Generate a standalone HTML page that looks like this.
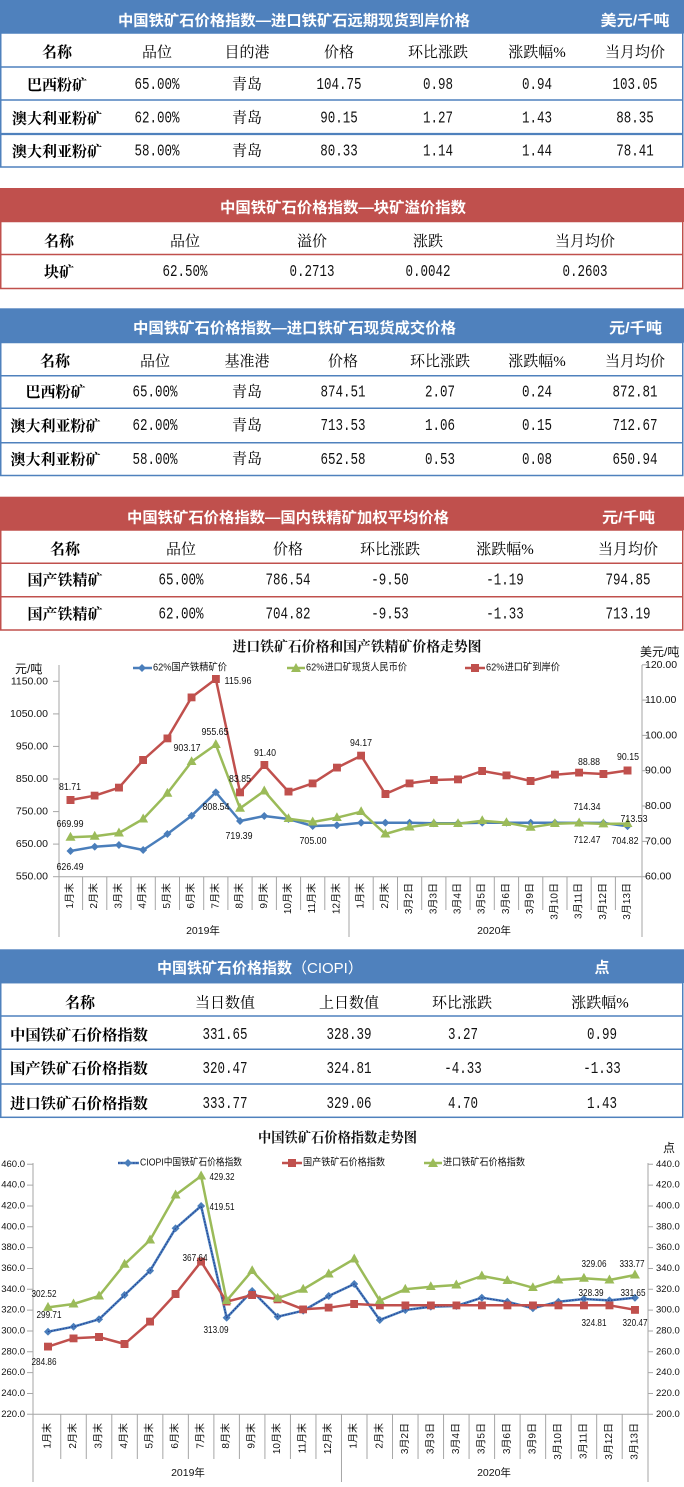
<!DOCTYPE html>
<html><head><meta charset="utf-8">
<style>
html,body{margin:0;padding:0;background:#fff;}
svg{display:block;}
.h{font-family:"Liberation Sans","Noto Sans CJK SC",sans-serif;font-weight:bold;font-size:15px;fill:#fff;}
.c{font-family:"Liberation Serif","Noto Serif CJK SC",serif;font-size:15px;fill:#000;}
.b{font-weight:bold;}
.n{font-family:"Liberation Mono",monospace;font-size:16.5px;fill:#111;}
.t{font-family:"Liberation Sans","Noto Sans CJK SC",sans-serif;font-size:10px;fill:#111;}
.d{font-family:"Liberation Sans","Noto Sans CJK SC",sans-serif;font-size:10.5px;fill:#111;}
.k{font-family:"Liberation Sans","Noto Sans CJK SC",sans-serif;font-size:10.5px;fill:#111;}
.ti{font-family:"Liberation Serif","Noto Serif CJK SC",serif;font-weight:bold;font-size:14px;fill:#111;}
text{dominant-baseline:central;}
</style></head>
<body>
<svg width="684" height="1487" viewBox="0 0 684 1487" xmlns="http://www.w3.org/2000/svg">
<defs>
<marker id="sq" markerWidth="8" markerHeight="8" refX="4" refY="4" markerUnits="userSpaceOnUse"><rect width="8" height="8" fill="#c0504d"/></marker>
<marker id="sq2" markerWidth="8" markerHeight="8" refX="4" refY="4" markerUnits="userSpaceOnUse"><rect width="8" height="8" fill="#c0504d"/></marker>
<marker id="dm" markerWidth="8" markerHeight="8" refX="4" refY="4" markerUnits="userSpaceOnUse"><path d="M4 0 L8 4 L4 8 L0 4Z" fill="#4a7ebb"/></marker>
<marker id="tr" markerWidth="10" markerHeight="9" refX="5" refY="5.5" markerUnits="userSpaceOnUse"><path d="M5 0 L10 9 L0 9Z" fill="#9bbb59"/></marker>
</defs>

<!-- ===== TABLE 1 ===== -->
<rect x="0" y="0" width="684" height="33.5" fill="#4f81bd"/>
<rect x="0.75" y="33" width="682" height="134" fill="none" stroke="#4f81bd" stroke-width="1.5"/>
<line x1="0" y1="67" x2="683" y2="67" stroke="#4f81bd" stroke-width="1.5"/>
<line x1="0" y1="100" x2="683" y2="100" stroke="#4f81bd" stroke-width="1.5"/>
<line x1="0" y1="134" x2="683" y2="134" stroke="#4f81bd" stroke-width="2.2"/>
<text class="h" x="294" y="21" text-anchor="middle" textLength="352" lengthAdjust="spacingAndGlyphs">中国铁矿石价格指数—进口铁矿石远期现货到岸价格</text>
<text class="h" x="635" y="21" text-anchor="middle" textLength="69" lengthAdjust="spacingAndGlyphs">美元/千吨</text>
<g class="c" text-anchor="middle">
<text class="c b" x="57" y="53">名称</text><text class="c" x="157" y="53">品位</text><text class="c" x="247" y="53">目的港</text><text class="c" x="339" y="53">价格</text><text class="c" x="438" y="53">环比涨跌</text><text class="c" x="537" y="53">涨跌幅%</text><text class="c" x="635" y="53">当月均价</text>
<text class="c b" x="57" y="86">巴西粉矿</text><text class="c b" x="57" y="119.5">澳大利亚粉矿</text><text class="c b" x="57" y="152.5">澳大利亚粉矿</text>
<text class="c" x="247" y="85">青岛</text><text class="c" x="247" y="118.5">青岛</text><text class="c" x="247" y="151.5">青岛</text>
</g>
<g text-anchor="middle">
<text class="n" x="157" y="84.5" textLength="45" lengthAdjust="spacingAndGlyphs">65.00%</text>
<text class="n" x="339" y="84.5" textLength="45" lengthAdjust="spacingAndGlyphs">104.75</text>
<text class="n" x="438" y="84.5" textLength="30" lengthAdjust="spacingAndGlyphs">0.98</text>
<text class="n" x="537" y="84.5" textLength="30" lengthAdjust="spacingAndGlyphs">0.94</text>
<text class="n" x="635" y="84.5" textLength="45" lengthAdjust="spacingAndGlyphs">103.05</text>
<text class="n" x="157" y="118" textLength="45" lengthAdjust="spacingAndGlyphs">62.00%</text>
<text class="n" x="339" y="118" textLength="37.5" lengthAdjust="spacingAndGlyphs">90.15</text>
<text class="n" x="438" y="118" textLength="30" lengthAdjust="spacingAndGlyphs">1.27</text>
<text class="n" x="537" y="118" textLength="30" lengthAdjust="spacingAndGlyphs">1.43</text>
<text class="n" x="635" y="118" textLength="37.5" lengthAdjust="spacingAndGlyphs">88.35</text>
<text class="n" x="157" y="151" textLength="45" lengthAdjust="spacingAndGlyphs">58.00%</text>
<text class="n" x="339" y="151" textLength="37.5" lengthAdjust="spacingAndGlyphs">80.33</text>
<text class="n" x="438" y="151" textLength="30" lengthAdjust="spacingAndGlyphs">1.14</text>
<text class="n" x="537" y="151" textLength="30" lengthAdjust="spacingAndGlyphs">1.44</text>
<text class="n" x="635" y="151" textLength="37.5" lengthAdjust="spacingAndGlyphs">78.41</text>
</g>

<!-- ===== TABLE 2 ===== -->
<rect x="0" y="188" width="684" height="34" fill="#c0504d"/>
<rect x="0.75" y="221.5" width="682" height="67" fill="none" stroke="#c0504d" stroke-width="1.5"/>
<line x1="0" y1="254.5" x2="683" y2="254.5" stroke="#c0504d" stroke-width="1.5"/>
<text class="h" x="343" y="208" text-anchor="middle" textLength="246" lengthAdjust="spacingAndGlyphs">中国铁矿石价格指数—块矿溢价指数</text>
<g text-anchor="middle">
<text class="c b" x="59" y="242">名称</text><text class="c" x="185" y="242">品位</text><text class="c" x="312" y="242">溢价</text><text class="c" x="428" y="242">涨跌</text><text class="c" x="585" y="242">当月均价</text>
<text class="c b" x="59" y="273">块矿</text>
<text class="n" x="185" y="271.5" textLength="45" lengthAdjust="spacingAndGlyphs">62.50%</text>
<text class="n" x="312" y="271.5" textLength="45" lengthAdjust="spacingAndGlyphs">0.2713</text>
<text class="n" x="428" y="271.5" textLength="45" lengthAdjust="spacingAndGlyphs">0.0042</text>
<text class="n" x="585" y="271.5" textLength="45" lengthAdjust="spacingAndGlyphs">0.2603</text>
</g>

<!-- ===== TABLE 3 ===== -->
<rect x="0" y="308.3" width="684" height="34.4" fill="#4f81bd"/>
<rect x="0.75" y="342.5" width="682" height="133" fill="none" stroke="#4f81bd" stroke-width="1.5"/>
<line x1="0" y1="375.7" x2="683" y2="375.7" stroke="#4f81bd" stroke-width="1.5"/>
<line x1="0" y1="408.3" x2="683" y2="408.3" stroke="#4f81bd" stroke-width="1.5"/>
<line x1="0" y1="442.7" x2="683" y2="442.7" stroke="#4f81bd" stroke-width="1.5"/>
<text class="h" x="294.5" y="328.5" text-anchor="middle" textLength="323" lengthAdjust="spacingAndGlyphs">中国铁矿石价格指数—进口铁矿石现货成交价格</text>
<text class="h" x="635.5" y="328.5" text-anchor="middle" textLength="53" lengthAdjust="spacingAndGlyphs">元/千吨</text>
<g text-anchor="middle">
<text class="c b" x="55" y="362">名称</text><text class="c" x="155" y="362">品位</text><text class="c" x="247" y="362">基准港</text><text class="c" x="343" y="362">价格</text><text class="c" x="440" y="362">环比涨跌</text><text class="c" x="537" y="362">涨跌幅%</text><text class="c" x="635" y="362">当月均价</text>
<text class="c b" x="55.5" y="393">巴西粉矿</text><text class="c b" x="55.5" y="427">澳大利亚粉矿</text><text class="c b" x="55.5" y="460.5">澳大利亚粉矿</text>
<text class="c" x="247" y="392.5">青岛</text><text class="c" x="247" y="426">青岛</text><text class="c" x="247" y="459.5">青岛</text>
<text class="n" x="155" y="392" textLength="45" lengthAdjust="spacingAndGlyphs">65.00%</text>
<text class="n" x="343" y="392" textLength="45" lengthAdjust="spacingAndGlyphs">874.51</text>
<text class="n" x="440" y="392" textLength="30" lengthAdjust="spacingAndGlyphs">2.07</text>
<text class="n" x="537" y="392" textLength="30" lengthAdjust="spacingAndGlyphs">0.24</text>
<text class="n" x="635" y="392" textLength="45" lengthAdjust="spacingAndGlyphs">872.81</text>
<text class="n" x="155" y="425.5" textLength="45" lengthAdjust="spacingAndGlyphs">62.00%</text>
<text class="n" x="343" y="425.5" textLength="45" lengthAdjust="spacingAndGlyphs">713.53</text>
<text class="n" x="440" y="425.5" textLength="30" lengthAdjust="spacingAndGlyphs">1.06</text>
<text class="n" x="537" y="425.5" textLength="30" lengthAdjust="spacingAndGlyphs">0.15</text>
<text class="n" x="635" y="425.5" textLength="45" lengthAdjust="spacingAndGlyphs">712.67</text>
<text class="n" x="155" y="459.5" textLength="45" lengthAdjust="spacingAndGlyphs">58.00%</text>
<text class="n" x="343" y="459.5" textLength="45" lengthAdjust="spacingAndGlyphs">652.58</text>
<text class="n" x="440" y="459.5" textLength="30" lengthAdjust="spacingAndGlyphs">0.53</text>
<text class="n" x="537" y="459.5" textLength="30" lengthAdjust="spacingAndGlyphs">0.08</text>
<text class="n" x="635" y="459.5" textLength="45" lengthAdjust="spacingAndGlyphs">650.94</text>
</g>

<!-- ===== TABLE 4 ===== -->
<rect x="0" y="496.7" width="684" height="33.5" fill="#c0504d"/>
<rect x="0.75" y="530" width="682" height="100" fill="none" stroke="#c0504d" stroke-width="1.5"/>
<line x1="0" y1="563.3" x2="683" y2="563.3" stroke="#c0504d" stroke-width="1.5"/>
<line x1="0" y1="596.7" x2="683" y2="596.7" stroke="#c0504d" stroke-width="1.5"/>
<text class="h" x="288" y="518" text-anchor="middle" textLength="322" lengthAdjust="spacingAndGlyphs">中国铁矿石价格指数—国内铁精矿加权平均价格</text>
<text class="h" x="628.5" y="518" text-anchor="middle" textLength="53" lengthAdjust="spacingAndGlyphs">元/千吨</text>
<g text-anchor="middle">
<text class="c b" x="65" y="550">名称</text><text class="c" x="181" y="550">品位</text><text class="c" x="288" y="550">价格</text><text class="c" x="390" y="550">环比涨跌</text><text class="c" x="505" y="550">涨跌幅%</text><text class="c" x="628" y="550">当月均价</text>
<text class="c b" x="65" y="581">国产铁精矿</text><text class="c b" x="65" y="615">国产铁精矿</text>
<text class="n" x="181" y="580" textLength="45" lengthAdjust="spacingAndGlyphs">65.00%</text>
<text class="n" x="288" y="580" textLength="45" lengthAdjust="spacingAndGlyphs">786.54</text>
<text class="n" x="390" y="580" textLength="37.5" lengthAdjust="spacingAndGlyphs">-9.50</text>
<text class="n" x="505" y="580" textLength="37.5" lengthAdjust="spacingAndGlyphs">-1.19</text>
<text class="n" x="628" y="580" textLength="45" lengthAdjust="spacingAndGlyphs">794.85</text>
<text class="n" x="181" y="614" textLength="45" lengthAdjust="spacingAndGlyphs">62.00%</text>
<text class="n" x="288" y="614" textLength="45" lengthAdjust="spacingAndGlyphs">704.82</text>
<text class="n" x="390" y="614" textLength="37.5" lengthAdjust="spacingAndGlyphs">-9.53</text>
<text class="n" x="505" y="614" textLength="37.5" lengthAdjust="spacingAndGlyphs">-1.33</text>
<text class="n" x="628" y="614" textLength="45" lengthAdjust="spacingAndGlyphs">713.19</text>
</g>

<!-- ===== CHART 1 ===== -->
<text class="ti" x="357" y="648" text-anchor="middle" textLength="249" lengthAdjust="spacingAndGlyphs">进口铁矿石价格和国产铁精矿价格走势图</text>
<text class="k" x="15" y="669" style="font-size:12px">元/吨</text>
<text class="k" x="640" y="652" style="font-size:12px">美元/吨</text>
<g stroke="#a6a6a6" stroke-width="1" fill="none">
<line x1="59" y1="665" x2="59" y2="937"/>
<line x1="642" y1="665" x2="642" y2="937"/>
<line x1="59" y1="876.7" x2="642" y2="876.7"/>
<line x1="53" y1="681.3" x2="59" y2="681.3"/><line x1="53" y1="713.9" x2="59" y2="713.9"/><line x1="53" y1="746.4" x2="59" y2="746.4"/><line x1="53" y1="779" x2="59" y2="779"/><line x1="53" y1="811.6" x2="59" y2="811.6"/><line x1="53" y1="844.1" x2="59" y2="844.1"/><line x1="53" y1="876.7" x2="59" y2="876.7"/>
<line x1="642" y1="664.8" x2="647" y2="664.8"/><line x1="642" y1="700.1" x2="647" y2="700.1"/><line x1="642" y1="735.4" x2="647" y2="735.4"/><line x1="642" y1="770.7" x2="647" y2="770.7"/><line x1="642" y1="806" x2="647" y2="806"/><line x1="642" y1="841.4" x2="647" y2="841.4"/><line x1="642" y1="876.7" x2="647" y2="876.7"/>
<path d="M82.6 876.7V910M106.8 876.7V910M131 876.7V910M155.3 876.7V910M179.5 876.7V910M203.7 876.7V910M227.9 876.7V910M252.1 876.7V910M276.4 876.7V910M300.6 876.7V910M324.8 876.7V910M349 876.7V937M373.2 876.7V910M397.5 876.7V910M421.7 876.7V910M445.9 876.7V910M470.1 876.7V910M494.3 876.7V910M518.6 876.7V910M542.8 876.7V910M567 876.7V910M591.2 876.7V910M615.4 876.7V910"/>
</g>
<g class="k" text-anchor="end">
<text x="48" y="681.3">1150.00</text><text x="48" y="713.9">1050.00</text><text x="48" y="746.4">950.00</text><text x="48" y="779">850.00</text><text x="48" y="811.6">750.00</text><text x="48" y="844.1">650.00</text><text x="48" y="876.7">550.00</text>
</g>
<g class="k">
<text x="645" y="664.8">120.00</text><text x="645" y="700.1">110.00</text><text x="645" y="735.4">100.00</text><text x="645" y="770.7">90.00</text><text x="645" y="806">80.00</text><text x="645" y="841.4">70.00</text><text x="645" y="876.7">60.00</text>
</g>
<g class="t" text-anchor="end">
<text transform="translate(70.5,883) rotate(-90)">1月末</text>
<text transform="translate(94.72,883) rotate(-90)">2月末</text>
<text transform="translate(118.94,883) rotate(-90)">3月末</text>
<text transform="translate(143.16,883) rotate(-90)">4月末</text>
<text transform="translate(167.38,883) rotate(-90)">5月末</text>
<text transform="translate(191.6,883) rotate(-90)">6月末</text>
<text transform="translate(215.82,883) rotate(-90)">7月末</text>
<text transform="translate(240.04,883) rotate(-90)">8月末</text>
<text transform="translate(264.26,883) rotate(-90)">9月末</text>
<text transform="translate(288.48,883) rotate(-90)">10月末</text>
<text transform="translate(312.7,883) rotate(-90)">11月末</text>
<text transform="translate(336.92,883) rotate(-90)">12月末</text>
<text transform="translate(361.14,883) rotate(-90)">1月末</text>
<text transform="translate(385.36,883) rotate(-90)">2月末</text>
<text transform="translate(409.58,883) rotate(-90)">3月2日</text>
<text transform="translate(433.8,883) rotate(-90)">3月3日</text>
<text transform="translate(458.02,883) rotate(-90)">3月4日</text>
<text transform="translate(482.24,883) rotate(-90)">3月5日</text>
<text transform="translate(506.46,883) rotate(-90)">3月6日</text>
<text transform="translate(530.68,883) rotate(-90)">3月9日</text>
<text transform="translate(554.9,883) rotate(-90)">3月10日</text>
<text transform="translate(579.12,883) rotate(-90)">3月11日</text>
<text transform="translate(603.34,883) rotate(-90)">3月12日</text>
<text transform="translate(627.56,883) rotate(-90)">3月13日</text>
</g>
<text class="k" x="203" y="931" text-anchor="middle">2019年</text>
<text class="k" x="494" y="931" text-anchor="middle">2020年</text>
<!-- legend -->
<line x1="133" y1="668" x2="152" y2="668" stroke="#4a7ebb" stroke-width="2.5"/><path d="M142 664 L146 668 L142 672 L138 668Z" fill="#4a7ebb"/>
<text class="t" x="153" y="668" textLength="74" lengthAdjust="spacingAndGlyphs">62%国产铁精矿价</text>
<line x1="287" y1="668" x2="305" y2="668" stroke="#9bbb59" stroke-width="2.5"/><path d="M296 663 L301 672 L291 672Z" fill="#9bbb59"/>
<text class="t" x="306" y="668" textLength="101" lengthAdjust="spacingAndGlyphs">62%进口矿现货人民币价</text>
<line x1="465" y1="668" x2="485" y2="668" stroke="#c0504d" stroke-width="2.5"/><rect x="471" y="664" width="8" height="8" fill="#c0504d"/>
<text class="t" x="486" y="668" textLength="74" lengthAdjust="spacingAndGlyphs">62%进口矿到岸价</text>
<!-- series -->
<polyline fill="none" stroke="#4a7ebb" stroke-width="2.5" stroke-linejoin="round" marker-start="url(#dm)" marker-mid="url(#dm)" marker-end="url(#dm)" points="70.5,851 94.72,846.7 118.94,845 143.16,850 167.38,834 191.6,815.7 215.82,792.3 240.04,821 264.26,816 288.48,819 312.7,826 336.92,825.3 361.14,822.7 385.36,822.7 409.58,822.7 433.8,823.3 458.02,823.3 482.24,822.7 506.46,822.7 530.68,822.7 554.9,822.7 579.12,822.9 603.34,822.9 627.56,826.2"/>
<polyline fill="none" stroke="#9bbb59" stroke-width="2.5" stroke-linejoin="round" marker-start="url(#tr)" marker-mid="url(#tr)" marker-end="url(#tr)" points="70.5,837.3 94.72,836.3 118.94,833 143.16,819 167.38,793.3 191.6,761.7 215.82,744.6 240.04,808.3 264.26,791 288.48,818.7 312.7,822 336.92,817.7 361.14,811.7 385.36,834 409.58,827 433.8,823.7 458.02,823.7 482.24,820.7 506.46,822.7 530.68,827.3 554.9,823.7 579.12,823 603.34,823.9 627.56,823.6"/>
<polyline fill="none" stroke="#c0504d" stroke-width="2.5" stroke-linejoin="round" marker-start="url(#sq)" marker-mid="url(#sq)" marker-end="url(#sq)" points="70.5,800 94.72,795.7 118.94,787.7 143.16,760 167.38,738.3 191.6,697.3 215.82,679 240.04,792.3 264.26,765 288.48,791.7 312.7,783.3 336.92,767.7 361.14,755.7 385.36,794 409.58,783.3 433.8,780 458.02,779.3 482.24,771 506.46,775.3 530.68,781 554.9,774.7 579.12,772.7 603.34,774 627.56,770.5"/>
<g class="d" text-anchor="middle">
<text x="70" y="787" textLength="22" lengthAdjust="spacingAndGlyphs">81.71</text>
<text x="238" y="681" textLength="27" lengthAdjust="spacingAndGlyphs">115.96</text>
<text x="215" y="732" textLength="27" lengthAdjust="spacingAndGlyphs">955.65</text>
<text x="187" y="748" textLength="27" lengthAdjust="spacingAndGlyphs">903.17</text>
<text x="240" y="779" textLength="22" lengthAdjust="spacingAndGlyphs">83.85</text>
<text x="265" y="753" textLength="22" lengthAdjust="spacingAndGlyphs">91.40</text>
<text x="216" y="807" textLength="27" lengthAdjust="spacingAndGlyphs">808.54</text>
<text x="70" y="824" textLength="27" lengthAdjust="spacingAndGlyphs">669.99</text>
<text x="239" y="836" textLength="27" lengthAdjust="spacingAndGlyphs">719.39</text>
<text x="313" y="841" textLength="27" lengthAdjust="spacingAndGlyphs">705.00</text>
<text x="70" y="867" textLength="27" lengthAdjust="spacingAndGlyphs">626.49</text>
<text x="361" y="743" textLength="22" lengthAdjust="spacingAndGlyphs">94.17</text>
<text x="589" y="762" textLength="22" lengthAdjust="spacingAndGlyphs">88.88</text>
<text x="628" y="757" textLength="22" lengthAdjust="spacingAndGlyphs">90.15</text>
<text x="587" y="807" textLength="27" lengthAdjust="spacingAndGlyphs">714.34</text>
<text x="634" y="819" textLength="27" lengthAdjust="spacingAndGlyphs">713.53</text>
<text x="587" y="840" textLength="27" lengthAdjust="spacingAndGlyphs">712.47</text>
<text x="625" y="841" textLength="27" lengthAdjust="spacingAndGlyphs">704.82</text>
</g>

<!-- ===== TABLE 5 ===== -->
<rect x="0" y="949.3" width="684" height="33.7" fill="#4f81bd"/>
<rect x="0.75" y="982.7" width="682" height="134.6" fill="none" stroke="#4f81bd" stroke-width="1.5"/>
<line x1="0" y1="1016" x2="683" y2="1016" stroke="#4f81bd" stroke-width="1.5"/>
<line x1="0" y1="1049.3" x2="683" y2="1049.3" stroke="#4f81bd" stroke-width="1.5"/>
<line x1="0" y1="1084" x2="683" y2="1084" stroke="#4f81bd" stroke-width="1.5"/>
<text class="h" x="157" y="968"><tspan textLength="135" lengthAdjust="spacingAndGlyphs">中国铁矿石价格指数</tspan><tspan style="font-weight:normal">（CIOPI）</tspan></text>
<text class="h" x="602" y="968" text-anchor="middle">点</text>
<g text-anchor="middle">
<text class="c b" x="80" y="1003.5">名称</text><text class="c" x="225" y="1003.5">当日数值</text><text class="c" x="349" y="1003.5">上日数值</text><text class="c" x="462" y="1003.5">环比涨跌</text><text class="c" x="600" y="1003.5">涨跌幅%</text>
<text class="n" x="225" y="1034.5" textLength="45" lengthAdjust="spacingAndGlyphs">331.65</text>
<text class="n" x="349" y="1034.5" textLength="45" lengthAdjust="spacingAndGlyphs">328.39</text>
<text class="n" x="463" y="1034.5" textLength="30" lengthAdjust="spacingAndGlyphs">3.27</text>
<text class="n" x="602" y="1034.5" textLength="30" lengthAdjust="spacingAndGlyphs">0.99</text>
<text class="n" x="225" y="1068.5" textLength="45" lengthAdjust="spacingAndGlyphs">320.47</text>
<text class="n" x="349" y="1068.5" textLength="45" lengthAdjust="spacingAndGlyphs">324.81</text>
<text class="n" x="463" y="1068.5" textLength="37.5" lengthAdjust="spacingAndGlyphs">-4.33</text>
<text class="n" x="602" y="1068.5" textLength="37.5" lengthAdjust="spacingAndGlyphs">-1.33</text>
<text class="n" x="225" y="1103.5" textLength="45" lengthAdjust="spacingAndGlyphs">333.77</text>
<text class="n" x="349" y="1103.5" textLength="45" lengthAdjust="spacingAndGlyphs">329.06</text>
<text class="n" x="463" y="1103.5" textLength="30" lengthAdjust="spacingAndGlyphs">4.70</text>
<text class="n" x="602" y="1103.5" textLength="30" lengthAdjust="spacingAndGlyphs">1.43</text>
</g>
<text class="c b" x="10" y="1036" textLength="138" lengthAdjust="spacingAndGlyphs">中国铁矿石价格指数</text>
<text class="c b" x="10" y="1069.5" textLength="138" lengthAdjust="spacingAndGlyphs">国产铁矿石价格指数</text>
<text class="c b" x="10" y="1104.5" textLength="138" lengthAdjust="spacingAndGlyphs">进口铁矿石价格指数</text>

<!-- ===== CHART 2 ===== -->
<text class="ti" x="258" y="1139" textLength="159" lengthAdjust="spacingAndGlyphs">中国铁矿石价格指数走势图</text>
<text class="k" x="669" y="1148" text-anchor="middle" style="font-size:12px">点</text>
<g stroke="#a6a6a6" stroke-width="1" fill="none">
<line x1="33" y1="1163" x2="33" y2="1482"/>
<line x1="648" y1="1163" x2="648" y2="1482"/>
<line x1="33" y1="1414.3" x2="648" y2="1414.3"/>
<path d="M27 1164.3H33M27 1185.1H33M27 1206H33M27 1226.8H33M27 1247.6H33M27 1268.5H33M27 1289.3H33M27 1310.1H33M27 1331H33M27 1351.8H33M27 1372.6H33M27 1393.5H33M27 1414.3H33"/>
<path d="M648 1164.3H653M648 1185.1H653M648 1206H653M648 1226.8H653M648 1247.6H653M648 1268.5H653M648 1289.3H653M648 1310.1H653M648 1331H653M648 1351.8H653M648 1372.6H653M648 1393.5H653M648 1414.3H653"/>
<path d="M60.76 1414.3V1459M86.28 1414.3V1459M111.8 1414.3V1459M137.32 1414.3V1459M162.84 1414.3V1459M188.36 1414.3V1459M213.88 1414.3V1459M239.4 1414.3V1459M264.92 1414.3V1459M290.44 1414.3V1459M315.96 1414.3V1459M341.48 1414.3V1482M367 1414.3V1459M392.52 1414.3V1459M418.04 1414.3V1459M443.56 1414.3V1459M469.08 1414.3V1459M494.6 1414.3V1459M520.12 1414.3V1459M545.64 1414.3V1459M571.16 1414.3V1459M596.68 1414.3V1459M622.2 1414.3V1459"/>
</g>
<g class="t" text-anchor="end" style="font-size:9.5px">
<text x="25" y="1164.3">460.0</text><text x="25" y="1185.1">440.0</text><text x="25" y="1206">420.0</text><text x="25" y="1226.8">400.0</text><text x="25" y="1247.6">380.0</text><text x="25" y="1268.5">360.0</text><text x="25" y="1289.3">340.0</text><text x="25" y="1310.1">320.0</text><text x="25" y="1331">300.0</text><text x="25" y="1351.8">280.0</text><text x="25" y="1372.6">260.0</text><text x="25" y="1393.5">240.0</text><text x="25" y="1414.3">220.0</text>
</g>
<g class="t" style="font-size:9.5px">
<text x="656" y="1164.3">440.0</text><text x="656" y="1185.1">420.0</text><text x="656" y="1206">400.0</text><text x="656" y="1226.8">380.0</text><text x="656" y="1247.6">360.0</text><text x="656" y="1268.5">340.0</text><text x="656" y="1289.3">320.0</text><text x="656" y="1310.1">300.0</text><text x="656" y="1331">280.0</text><text x="656" y="1351.8">260.0</text><text x="656" y="1372.6">240.0</text><text x="656" y="1393.5">220.0</text><text x="656" y="1414.3">200.0</text>
</g>
<g class="t" text-anchor="end">
<text transform="translate(48,1423) rotate(-90)">1月末</text>
<text transform="translate(73.52,1423) rotate(-90)">2月末</text>
<text transform="translate(99.04,1423) rotate(-90)">3月末</text>
<text transform="translate(124.56,1423) rotate(-90)">4月末</text>
<text transform="translate(150.08,1423) rotate(-90)">5月末</text>
<text transform="translate(175.6,1423) rotate(-90)">6月末</text>
<text transform="translate(201.12,1423) rotate(-90)">7月末</text>
<text transform="translate(226.64,1423) rotate(-90)">8月末</text>
<text transform="translate(252.16,1423) rotate(-90)">9月末</text>
<text transform="translate(277.68,1423) rotate(-90)">10月末</text>
<text transform="translate(303.2,1423) rotate(-90)">11月末</text>
<text transform="translate(328.72,1423) rotate(-90)">12月末</text>
<text transform="translate(354.24,1423) rotate(-90)">1月末</text>
<text transform="translate(379.76,1423) rotate(-90)">2月末</text>
<text transform="translate(405.28,1423) rotate(-90)">3月2日</text>
<text transform="translate(430.8,1423) rotate(-90)">3月3日</text>
<text transform="translate(456.32,1423) rotate(-90)">3月4日</text>
<text transform="translate(481.84,1423) rotate(-90)">3月5日</text>
<text transform="translate(507.36,1423) rotate(-90)">3月6日</text>
<text transform="translate(532.88,1423) rotate(-90)">3月9日</text>
<text transform="translate(558.4,1423) rotate(-90)">3月10日</text>
<text transform="translate(583.92,1423) rotate(-90)">3月11日</text>
<text transform="translate(609.44,1423) rotate(-90)">3月12日</text>
<text transform="translate(634.96,1423) rotate(-90)">3月13日</text>
</g>
<text class="k" x="188" y="1473" text-anchor="middle">2019年</text>
<text class="k" x="494" y="1473" text-anchor="middle">2020年</text>
<!-- legend -->
<line x1="118" y1="1163" x2="139" y2="1163" stroke="#4a7ebb" stroke-width="2.5"/><line x1="118" y1="1163" x2="139" y2="1163" stroke="#1f3a93" stroke-width="1" stroke-dasharray="1.5 1.5"/><path d="M128 1159 L132 1163 L128 1167 L124 1163Z" fill="#4a7ebb"/>
<text class="t" x="140" y="1163" textLength="102" lengthAdjust="spacingAndGlyphs">CIOPI中国铁矿石价格指数</text>
<line x1="282" y1="1163" x2="302" y2="1163" stroke="#c0504d" stroke-width="2.5"/><rect x="288" y="1159" width="8" height="8" fill="#c0504d"/>
<text class="t" x="303" y="1163" textLength="82" lengthAdjust="spacingAndGlyphs">国产铁矿石价格指数</text>
<line x1="424" y1="1163" x2="442" y2="1163" stroke="#9bbb59" stroke-width="2.5"/><path d="M433 1158 L438 1167 L428 1167Z" fill="#9bbb59"/>
<text class="t" x="443" y="1163" textLength="82" lengthAdjust="spacingAndGlyphs">进口铁矿石价格指数</text>
<!-- series -->
<polyline fill="none" stroke="#4a7ebb" stroke-width="2.5" stroke-linejoin="round" marker-start="url(#dm)" marker-mid="url(#dm)" marker-end="url(#dm)" points="48,1331.7 73.52,1326.7 99.04,1319.3 124.56,1295 150.08,1270.7 175.6,1228.3 201.12,1206 226.64,1317.7 252.16,1291 277.68,1316.7 303.2,1310.7 328.72,1296 354.24,1284 379.76,1320 405.28,1310 430.8,1306.7 456.32,1306 481.84,1297.7 507.36,1301.7 532.88,1308.3 558.4,1301.7 583.92,1299 609.44,1300.4 634.96,1297.8"/>
<polyline fill="none" stroke="#1f3a93" stroke-width="1" stroke-dasharray="1.5 1.5" points="48,1331.7 73.52,1326.7 99.04,1319.3 124.56,1295 150.08,1270.7 175.6,1228.3 201.12,1206 226.64,1317.7 252.16,1291 277.68,1316.7 303.2,1310.7 328.72,1296 354.24,1284 379.76,1320 405.28,1310 430.8,1306.7 456.32,1306 481.84,1297.7 507.36,1301.7 532.88,1308.3 558.4,1301.7 583.92,1299 609.44,1300.4 634.96,1297.8"/>
<polyline fill="none" stroke="#c0504d" stroke-width="2.5" stroke-linejoin="round" marker-start="url(#sq2)" marker-mid="url(#sq2)" marker-end="url(#sq2)" points="48,1346.7 73.52,1338.3 99.04,1337 124.56,1344 150.08,1321.7 175.6,1294 201.12,1261.7 226.64,1301.7 252.16,1295 277.68,1299.3 303.2,1309.3 328.72,1307.7 354.24,1304 379.76,1305.3 405.28,1305.3 430.8,1305.3 456.32,1305.3 481.84,1305.3 507.36,1305.3 532.88,1305.3 558.4,1305.3 583.92,1305.3 609.44,1305.3 634.96,1309.8"/>
<polyline fill="none" stroke="#9bbb59" stroke-width="2.5" stroke-linejoin="round" marker-start="url(#tr)" marker-mid="url(#tr)" marker-end="url(#tr)" points="48,1307.4 73.52,1304 99.04,1296 124.56,1264.3 150.08,1240 175.6,1195 201.12,1176 226.64,1300.7 252.16,1270.7 277.68,1298.3 303.2,1289.3 328.72,1274 354.24,1259 379.76,1300.7 405.28,1289.3 430.8,1286.7 456.32,1285 481.84,1276 507.36,1280.7 532.88,1287.7 558.4,1280 583.92,1278.3 609.44,1280 634.96,1275"/>
<g class="d" text-anchor="middle">
<text x="44" y="1294" textLength="25" lengthAdjust="spacingAndGlyphs">302.52</text>
<text x="49" y="1315" textLength="25" lengthAdjust="spacingAndGlyphs">299.71</text>
<text x="44" y="1362" textLength="25" lengthAdjust="spacingAndGlyphs">284.86</text>
<text x="222" y="1177" textLength="25" lengthAdjust="spacingAndGlyphs">429.32</text>
<text x="222" y="1207" textLength="25" lengthAdjust="spacingAndGlyphs">419.51</text>
<text x="195" y="1258" textLength="25" lengthAdjust="spacingAndGlyphs">367.64</text>
<text x="216" y="1330" textLength="25" lengthAdjust="spacingAndGlyphs">313.09</text>
<text x="594" y="1264" textLength="25" lengthAdjust="spacingAndGlyphs">329.06</text>
<text x="632" y="1264" textLength="25" lengthAdjust="spacingAndGlyphs">333.77</text>
<text x="591" y="1293" textLength="25" lengthAdjust="spacingAndGlyphs">328.39</text>
<text x="633" y="1293" textLength="25" lengthAdjust="spacingAndGlyphs">331.65</text>
<text x="594" y="1323" textLength="25" lengthAdjust="spacingAndGlyphs">324.81</text>
<text x="635" y="1323" textLength="25" lengthAdjust="spacingAndGlyphs">320.47</text>
</g>
</svg>
</body></html>
